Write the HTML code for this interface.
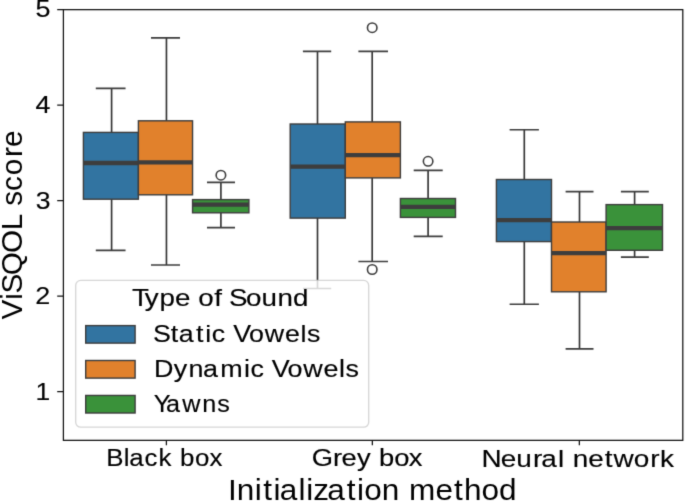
<!DOCTYPE html><html><head><meta charset="utf-8"><style>html,body{margin:0;padding:0;background:#fff;overflow:hidden}svg{display:block}text{font-family:"Liberation Sans",sans-serif;fill:#000;stroke:#000;stroke-width:0.15px}</style></head><body>
<div id="w">
<svg width="685" height="501" viewBox="0 0 685 501">
<defs><filter id="soft" x="0" y="0" width="685" height="501" filterUnits="userSpaceOnUse" color-interpolation-filters="sRGB"><feConvolveMatrix order="3" kernelMatrix="0.0144 0.0912 0.0144 0.0912 0.5776 0.0912 0.0144 0.0912 0.0144" edgeMode="duplicate" preserveAlpha="true"/></filter></defs>
<g filter="url(#soft)">
<rect width="685" height="501" fill="#fff"/>
<path d="M111.6 132.4V88.4M111.6 199.2V250.4" stroke="#343434" stroke-width="1.65" fill="none"/><path d="M95.8 88.4H125.55M95.8 250.4H125.55" stroke="#3d3d3d" stroke-width="1.65" fill="none"/><rect x="83.4" y="132.4" width="55" height="66.8" fill="#3274a1" stroke="#3d3d3d" stroke-width="1.4"/><path d="M83.4 163H138.4" stroke="#3d3d3d" stroke-width="4.3" fill="none"/>
<path d="M166.45 120.8V37.9M166.45 194.8V265" stroke="#343434" stroke-width="1.65" fill="none"/><path d="M151 37.9H180M151 265H180" stroke="#3d3d3d" stroke-width="1.65" fill="none"/><rect x="138.4" y="120.8" width="54.15" height="74" fill="#e1812c" stroke="#3d3d3d" stroke-width="1.4"/><path d="M138.4 162.4H192.55" stroke="#3d3d3d" stroke-width="4.3" fill="none"/>
<path d="M220.9 199.6V182.4M220.9 212.8V227.6" stroke="#343434" stroke-width="1.65" fill="none"/><path d="M207 182.4H235M207 227.6H235" stroke="#3d3d3d" stroke-width="1.65" fill="none"/><rect x="192.55" y="199.6" width="56.35" height="13.2" fill="#3a923a" stroke="#3d3d3d" stroke-width="1.4"/><path d="M192.55 204.6H248.9" stroke="#3d3d3d" stroke-width="4.3" fill="none"/><circle cx="220.9" cy="175.2" r="4.75" fill="none" stroke="#3d3d3d" stroke-width="1.6"/>
<path d="M317.5 124V51.4M317.5 218.1V288.5" stroke="#343434" stroke-width="1.65" fill="none"/><path d="M302.9 51.4H331.2M302.9 288.5H331.2" stroke="#3d3d3d" stroke-width="1.65" fill="none"/><rect x="290.2" y="124" width="55.1" height="94.1" fill="#3274a1" stroke="#3d3d3d" stroke-width="1.4"/><path d="M290.2 166.7H345.3" stroke="#3d3d3d" stroke-width="4.3" fill="none"/>
<path d="M372.2 121.9V51.4M372.2 177.9V261.5" stroke="#343434" stroke-width="1.65" fill="none"/><path d="M358.4 51.4H388M358.4 261.5H388" stroke="#3d3d3d" stroke-width="1.65" fill="none"/><rect x="345.3" y="121.9" width="55.1" height="56" fill="#e1812c" stroke="#3d3d3d" stroke-width="1.4"/><path d="M345.3 155.1H400.4" stroke="#3d3d3d" stroke-width="4.3" fill="none"/><circle cx="372.2" cy="27.7" r="4.75" fill="none" stroke="#3d3d3d" stroke-width="1.6"/><circle cx="372.2" cy="269.5" r="4.75" fill="none" stroke="#3d3d3d" stroke-width="1.6"/>
<path d="M428.1 198.5V170.3M428.1 217.4V236.3" stroke="#343434" stroke-width="1.65" fill="none"/><path d="M413.7 170.3H442.7M413.7 236.3H442.7" stroke="#3d3d3d" stroke-width="1.65" fill="none"/><rect x="400.4" y="198.5" width="55.1" height="18.9" fill="#3a923a" stroke="#3d3d3d" stroke-width="1.4"/><path d="M400.4 206.9H455.5" stroke="#3d3d3d" stroke-width="4.3" fill="none"/><circle cx="428.1" cy="161.3" r="4.75" fill="none" stroke="#3d3d3d" stroke-width="1.6"/>
<path d="M524.3 179.5V129.7M524.3 241.6V304.2" stroke="#343434" stroke-width="1.65" fill="none"/><path d="M509.6 129.7H538.9M509.6 304.2H538.9" stroke="#3d3d3d" stroke-width="1.65" fill="none"/><rect x="496.4" y="179.5" width="55.1" height="62.1" fill="#3274a1" stroke="#3d3d3d" stroke-width="1.4"/><path d="M496.4 220.2H551.5" stroke="#3d3d3d" stroke-width="4.3" fill="none"/>
<path d="M579.5 222V191.6M579.5 291.8V348.8" stroke="#343434" stroke-width="1.65" fill="none"/><path d="M565.6 191.6H593.5M565.6 348.8H593.5" stroke="#3d3d3d" stroke-width="1.65" fill="none"/><rect x="551.5" y="222" width="54.6" height="69.8" fill="#e1812c" stroke="#3d3d3d" stroke-width="1.4"/><path d="M551.5 253.1H606.1" stroke="#3d3d3d" stroke-width="4.3" fill="none"/>
<path d="M634.6 204.6V191.6M634.6 250.3V257.1" stroke="#343434" stroke-width="1.65" fill="none"/><path d="M620.9 191.6H648.8M620.9 257.1H648.8" stroke="#3d3d3d" stroke-width="1.65" fill="none"/><rect x="606.1" y="204.6" width="56.4" height="45.7" fill="#3a923a" stroke="#3d3d3d" stroke-width="1.4"/><path d="M606.1 228.2H662.5" stroke="#3d3d3d" stroke-width="4.3" fill="none"/>
<rect x="63.4" y="9.65" width="619.4" height="430.7" fill="none" stroke="#111" stroke-width="1.25"/>
<path d="M57.2 391.7H63.4M57.2 296.18H63.4M57.2 200.65H63.4M57.2 105.12H63.4M57.2 9.6H63.4M166.4 440.35V445.25M372.35 440.35V445.25M579.35 440.35V445.25" stroke="#111" stroke-width="1.25" fill="none"/>
<rect x="75.7" y="280.4" width="293" height="146.8" rx="5" fill="#fff" fill-opacity="0.8" stroke="#cccccc" stroke-opacity="0.8" stroke-width="1.33"/>
<rect x="85.7" y="325.6" width="49.4" height="17.5" fill="#3274a1" stroke="#3d3d3d" stroke-width="1.4"/>
<rect x="85.7" y="360.5" width="49.4" height="17.6" fill="#e1812c" stroke="#3d3d3d" stroke-width="1.4"/>
<rect x="85.7" y="395.45" width="49.4" height="17.55" fill="#3a923a" stroke="#3d3d3d" stroke-width="1.4"/>
<text transform="scale(1.0930 1)" x="32.59" y="17" font-size="24.7">5</text>
<text transform="scale(1.0846 1)" x="32.81" y="113" font-size="24.7">4</text>
<text transform="scale(1.0759 1)" x="33.26" y="209" font-size="24.7">3</text>
<text transform="scale(1.0931 1)" x="32.33" y="304" font-size="24.7">2</text>
<text transform="scale(1.0705 1)" x="33.24" y="400" font-size="24.7">1</text>
<text transform="scale(1.0472 1)" x="101.44 118.07 123.31 137.98 151.41 164.09 171.97 186.18 199.96" y="466" font-size="24.7">Black box</text>
<text transform="scale(1.1086 1)" x="281.33 300.28 308.02 321.97 334.68 341.95 355.59 368.82" y="466" font-size="24.7">Grey box</text>
<text transform="scale(1.1309 1)" x="425.67 442.83 456.54 471.27 478.57 493.40 499.21 506.41 520.21 534.66 542.59 560.45 574.89 583.50" y="467" font-size="24.7">Neural network</text>
<text transform="scale(1.0962 1)" x="207.99 215.93 232.37 240.05 249.52 255.10 272.31 279.44 285.84 298.46 316.26 325.73 332.30 348.30 364.37 373.05 397.37 414.15 423.36 439.31 455.13" y="500" font-size="28.8" style="stroke-width:0">Initialization method</text>
<text transform="translate(21.70 0) rotate(-90) scale(1.0303 1)" x="-309.99 -291.02 -284.82 -267.12 -245.60 -223.48 -208.42 -199.61 -185.50 -170.10 -152.38 -142.64" y="0" font-size="28.8" style="stroke-width:0">ViSQOL score</text>
<text transform="scale(1.1240 1)" x="117.55 128.81 141.87 155.67 169.33 176.32 190.73 197.80 203.79 218.89 232.67 246.84 260.77" y="306" font-size="24.7">Type of Sound</text>
<text transform="scale(1.0847 1)" x="140.98 157.48 164.85 180.74 189.25 195.11 207.92 214.95 229.53 244.01 262.70 277.12 283.10" y="342" font-size="24.7">Static Vowels</text>
<text transform="scale(1.0898 1)" x="141.21 159.55 172.99 186.37 202.12 223.98 229.77 242.53 249.44 263.92 278.27 296.83 311.17 317.07" y="377" font-size="24.7">Dynamic Vowels</text>
<text transform="scale(1.0205 1)" x="150.66 162.55 178.61 198.20 212.91" y="412" font-size="24.7">Yawns</text>
</g></svg></div></body></html>
